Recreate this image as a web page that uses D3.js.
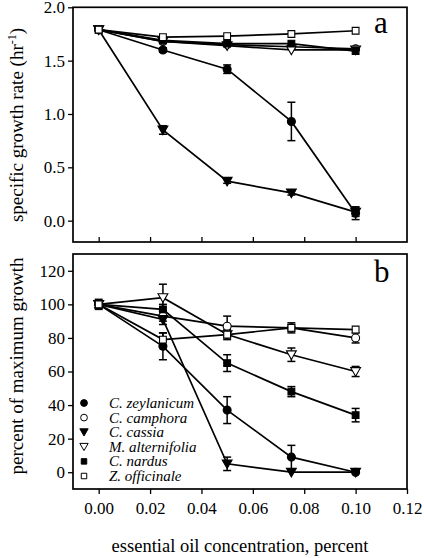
<!DOCTYPE html>
<html><head><meta charset="utf-8">
<script src="https://cdn.jsdelivr.net/npm/d3@7"></script>
<style>
html,body{margin:0;padding:0;background:#fff;}
</style></head>
<body>
<svg id="chart" width="424" height="558"></svg>
<script>
// ---- data ----
const conc = [0, 0.025, 0.05, 0.075, 0.1];
const species = ["C. zeylanicum", "C. camphora", "C. cassia", "M. alternifolia", "C. nardus", "Z. officinale"];
const symbolShape = ["circle", "circle", "triangle", "triangle", "square", "square"];
const symbolFilled = [true, false, true, false, true, false];

const rateZeylanicum = [1.79, 1.60, 1.42, 0.93, 0.07];
const rateCamphora   = [1.79, 1.68, 1.65, 1.63, 1.61];
const rateCassia     = [1.79, 0.85, 0.37, 0.26, 0.08];
const rateAlternifolia = [1.79, 1.68, 1.64, 1.60, 1.60];
const rateNardus     = [1.79, 1.69, 1.66, 1.66, 1.59];
const rateOfficinale = [1.79, 1.72, 1.73, 1.75, 1.78];

const rateErrZeylanicum = [0.01, 0.02, 0.04, 0.18, 0.06];
const rateErrCamphora   = [0.01, 0.01, 0.01, 0.01, 0.01];
const rateErrCassia     = [0.01, 0.04, 0.02, 0.02, 0.04];
const rateErrAlternifolia = [0.01, 0.01, 0.01, 0.01, 0.01];
const rateErrNardus     = [0.01, 0.01, 0.01, 0.01, 0.01];
const rateErrOfficinale = [0.01, 0.01, 0.01, 0.01, 0.01];

const pctZeylanicum = [100, 75, 37, 9, 0];
const pctCamphora   = [100, 93, 87, 86, 80];
const pctCassia     = [100, 91, 5, 0, 0];
const pctAlternifolia = [100, 104, 82, 70, 60];
const pctNardus     = [100, 97, 65, 48, 34];
const pctOfficinale = [100, 79, 82, 86, 85];

const pctErrZeylanicum = [2, 8, 8, 7, 1];
const pctErrCamphora   = [2, 3, 6, 3, 3];
const pctErrCassia     = [2, 3, 4, 1, 0];
const pctErrAlternifolia = [2, 8, 2, 4, 3];
const pctErrNardus     = [3, 3, 5, 3, 4];
const pctErrOfficinale = [2, 4, 3, 2, 1];

const xTicks = [0, 0.02, 0.04, 0.06, 0.08, 0.10, 0.12];
const yTicksA = [0, 0.5, 1.0, 1.5, 2.0];
const yTicksB = [0, 20, 40, 60, 80, 100, 120];

const rateSeries = [rateZeylanicum, rateCamphora, rateCassia, rateAlternifolia, rateNardus, rateOfficinale];
const rateErrs = [rateErrZeylanicum, rateErrCamphora, rateErrCassia, rateErrAlternifolia, rateErrNardus, rateErrOfficinale];
const pctSeries = [pctZeylanicum, pctCamphora, pctCassia, pctAlternifolia, pctNardus, pctOfficinale];
const pctErrs = [pctErrZeylanicum, pctErrCamphora, pctErrCassia, pctErrAlternifolia, pctErrNardus, pctErrOfficinale];

// ---- layout ----
const FONT = "'Liberation Serif', 'Times New Roman', Times, serif";
const svg = d3.select("#chart");
const left = 73, right = 407;
const x = d3.scaleLinear().domain([-0.01, 0.12]).range([left, right]);
const yA = d3.scaleLinear().domain([-0.2, 2.0]).range([242, 7.3]);
const yB = d3.scaleLinear().domain([-10, 130]).range([489, 254]);

function symbolPath(shape, size) {
  const t = shape === "circle" ? d3.symbolCircle : shape === "square" ? d3.symbolSquare : d3.symbolTriangle;
  return d3.symbol().type(t).size(size)();
}

function panel(y, yTicks, series, errs, fmt, showXLabels, letter) {
  const g = svg.append("g");
  g.append("rect").attr("x", left).attr("y", y.range()[1])
    .attr("width", right - left).attr("height", y.range()[0] - y.range()[1])
    .attr("fill", "none").attr("stroke", "#000").attr("stroke-width", 1.7);
  const ya = d3.axisLeft(y).tickValues(yTicks).tickFormat(fmt).tickSize(5).tickPadding(3);
  const yg = g.append("g").attr("transform", `translate(${left},0)`).call(ya);
  yg.attr("font-family", null).attr("font-size", null);
  yg.select(".domain").remove();
  yg.selectAll("line").attr("stroke-width", 1.3);
  yg.selectAll("text").style("font-family", FONT).style("font-size", "17px").attr("fill", "#000");
  if (showXLabels) {
    const xa = d3.axisBottom(x).tickValues(xTicks).tickFormat(d3.format(".2f")).tickSize(5).tickPadding(8);
    const xg = g.append("g").attr("transform", `translate(0,${y.range()[0]})`).call(xa);
    xg.attr("font-family", null).attr("font-size", null);
    xg.select(".domain").remove();
    xg.selectAll("line").attr("stroke-width", 1.3);
    xg.selectAll("text").style("font-family", FONT).style("font-size", "17px").attr("fill", "#000");
  } else {
    const xa = d3.axisTop(x).tickValues(xTicks.slice(0, 6)).tickFormat("").tickSize(5);
    const xg = g.append("g").attr("transform", `translate(0,${y.range()[0]})`).call(xa);
    xg.select(".domain").remove();
    xg.selectAll("line").attr("stroke-width", 1.3);
  }
  const line = d3.line().x((d, i) => x(conc[i])).y(d => y(d));
  series.forEach((s, k) => {
    g.append("path").attr("d", line(s)).attr("fill", "none")
      .attr("stroke", "#000").attr("stroke-width", 1.7);
  });
  series.forEach((s, k) => {
    s.forEach((v, i) => {
      const e = errs[k][i];
      const cx = x(conc[i]);
      const y1 = y(v + e), y2 = y(v - e);
      if (Math.abs(y2 - y1) < 4) return;
      g.append("line").attr("x1", cx).attr("x2", cx).attr("y1", y1).attr("y2", y2)
        .attr("stroke", "#000").attr("stroke-width", 1.5);
      [y1, y2].forEach(yy => g.append("line").attr("x1", cx - 4).attr("x2", cx + 4)
        .attr("y1", yy).attr("y2", yy).attr("stroke", "#000").attr("stroke-width", 1.5));
    });
  });
  series.forEach((s, k) => {
    s.forEach((v, i) => {
      const shape = symbolShape[k];
      const size = shape === "circle" ? 50 : shape === "square" ? 46 : 42;
      const rot = shape === "triangle" ? 180 : 0;
      g.append("path").attr("d", symbolPath(shape, size))
        .attr("transform", `translate(${x(conc[i])},${y(v) + (shape === "triangle" ? -1 : 0)}) rotate(${rot})`)
        .attr("fill", symbolFilled[k] ? "#000" : "#fff")
        .attr("stroke", "#000").attr("stroke-width", 1.1);
    });
  });
  g.append("text").attr("x", 374).attr("y", letter === "a" ? 33 : 282)
    .style("font-family", FONT).style("font-size", "31px").text(letter);
}

panel(yA, yTicksA, rateSeries, rateErrs, d3.format(".1f"), false, "a");
panel(yB, yTicksB, pctSeries, pctErrs, d3.format("d"), true, "b");

const ta = svg.append("text").attr("transform", "translate(23,125) rotate(-90)")
  .attr("text-anchor", "middle").style("font-family", FONT).style("font-size", "19px");
ta.append("tspan").text("specific growth rate (hr");
ta.append("tspan").attr("baseline-shift", "super").style("font-size", "12px").text("-1");
ta.append("tspan").text(")");

svg.append("text").attr("transform", "translate(23,366) rotate(-90)")
  .attr("text-anchor", "middle").style("font-family", FONT).style("font-size", "19px")
  .text("percent of maximum growth");

svg.append("text").attr("x", 240).attr("y", 552)
  .attr("text-anchor", "middle").style("font-family", FONT).style("font-size", "18.5px")
  .text("essential oil concentration, percent");

const legY0 = 403, legDy = 14.6;
species.forEach((name, k) => {
  const cy = legY0 + k * legDy;
  const shape = symbolShape[k];
  const size = shape === "circle" ? 36 : 30;
  svg.append("path").attr("d", symbolPath(shape, size))
    .attr("transform", `translate(84,${cy + (shape === "triangle" ? -1 : 0)}) rotate(${shape === "triangle" ? 180 : 0})`)
    .attr("fill", symbolFilled[k] ? "#000" : "#fff").attr("stroke", "#000").attr("stroke-width", 1);
  svg.append("text").attr("x", 109).attr("y", cy + 5)
    .style("font-family", FONT).style("font-size", "15px").style("font-style", "italic")
    .text(name);
});
</script>
</body></html>
